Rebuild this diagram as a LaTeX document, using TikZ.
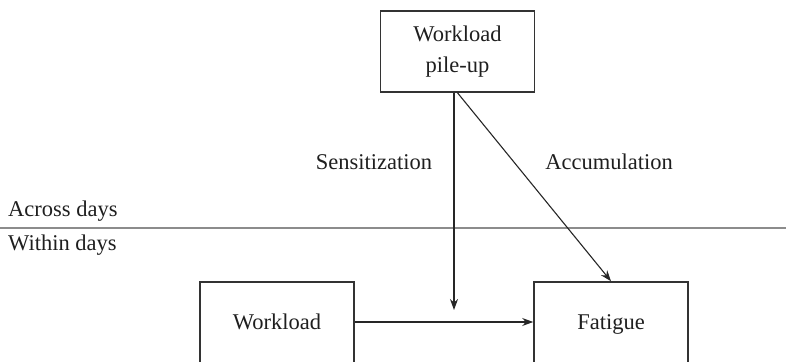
\documentclass[tikz,border=0pt]{standalone}
\usepackage{fontspec}
\setmainfont{Liberation Serif}
\usetikzlibrary{arrows.meta,positioning,calc}

\begin{document}
\begin{tikzpicture}[
    x=1pt, y=-1pt,
    font=\fontsize{22.5}{31.5}\selectfont,
    text=black!88,
    varbox/.style={draw=black!80, line width=1.6pt, fill=white, minimum width=154pt, minimum height=81pt, align=center, inner sep=0pt},
    lowbox/.style={varbox, minimum height=86pt},
    arrow/.style={-{Stealth[length=11pt, width=8pt]}, line width=1.1pt, draw=black!85},
    level/.style={anchor=west, inner sep=0pt}
]
    \useasboundingbox (0,0) rectangle (786,361);

    % Separation entre les niveaux
    \draw[draw=black!45, line width=1.6pt] (0,228) -- (786,228);
    \node[level] (across) at (8,211) {Across days};
    \node[level] (within) at (8,245) {Within days};

    % Variables
    \node[varbox] (pileup) at (457.5,51.5) {Workload\\pile-up};
    \node[lowbox] (workload) at (277,325) {\raisebox{6pt}{Workload}};
    \node[lowbox] (fatigue) at (611,325) {\raisebox{6pt}{Fatigue}};

    % Relations
    \coordinate (sens_end) at (454,310);
    \draw[arrow] (pileup.south -| sens_end) -- node[pos=0.32, left=18pt] (sens) {Sensitization} (sens_end);
    \draw[arrow] (pileup.south) -- node[pos=0.365, right=28pt] (acc) {Accumulation} (fatigue.north);
    \draw[arrow] (workload.east |- 0,322) -- (fatigue.west |- 0,322);

\end{tikzpicture}
\end{document}
